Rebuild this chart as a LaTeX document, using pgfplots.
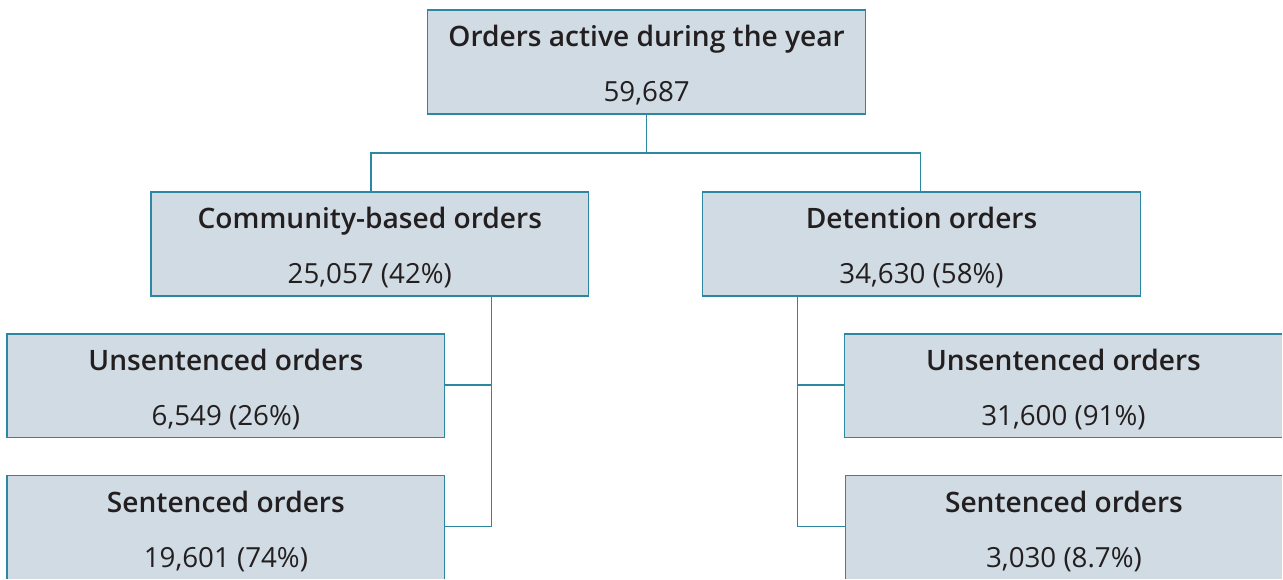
\documentclass[border=0pt]{standalone}
\usepackage{fontspec}
\setmainfont{Open Sans}[BoldFont={Open Sans Semibold}]
\usepackage{pgfplots}
\pgfplotsset{compat=1.18}
\definecolor{boxfill}{HTML}{D0DBE3}
\definecolor{boxline}{HTML}{2E87A0}
\definecolor{txt}{HTML}{231F20}
\tikzset{bline/.style={draw=boxline,line width=1pt}}
% #1 x0, #2 y0, #3 x1, #4 y1, #5 title, #6 value
\newcommand\orgtext[6]{%
  \node[anchor=base,text=txt,inner sep=0pt,font=\fontsize{21.1}{24}\selectfont\bfseries] at (axis cs:{(#1+#3)/2},{#2+37}) {#5};
  \node[anchor=base,text=txt,inner sep=0pt,font=\fontsize{20.8}{24}\selectfont] at (axis cs:{(#1+#3)/2},{#2+91.5}) {#6};
}
\newcommand\orgbox[6]{%
  \draw[fill=boxfill,bline] (axis cs:#1,#2) rectangle (axis cs:#3,#4);
  \orgtext{#1}{#2}{#3}{#4}{#5}{#6}
}
\begin{document}
\begin{tikzpicture}
\begin{axis}[
  x=0.75pt, y=0.75pt,
  xmin=0, xmax=1283, ymin=0, ymax=579,
  y dir=reverse,
  hide axis, clip=false, scale only axis,
]
% invisible frame: the picture's extent
\path (axis cs:0,0) rectangle (axis cs:1283,579);
% connectors
\addplot[boxline,line width=1.1pt] coordinates {(647,114) (647,153)};
\addplot[boxline,line width=1.1pt] coordinates {(371,192) (371,153) (921,153) (921,192)};
\addplot[boxline,line width=1.1pt] coordinates {(492,296) (492,527) (445,527)};
\addplot[boxline,line width=1.1pt] coordinates {(492,385) (445,385)};
\addplot[boxline,line width=1.1pt] coordinates {(798,296) (798,527) (846,527)};
\addplot[boxline,line width=1.1pt] coordinates {(798,385) (845,385)};
% full boxes
\orgbox{428}{10}{866}{114}{Orders active during the year}{59,687}
\orgbox{151}{192}{589}{296}{Community-based orders}{25,057 (42\%)}
\orgbox{703}{192}{1141}{296}{Detention orders}{34,630 (58\%)}
\orgbox{7}{334}{445}{438}{Unsentenced orders}{6,549 (26\%)}
% boxes cut by the picture's edge
\fill[boxfill] (axis cs:7,476) rectangle (axis cs:445,579);
\draw[bline] (axis cs:7,579) -- (axis cs:7,476) -- (axis cs:445,476) -- (axis cs:445,579);
\orgtext{7}{476}{445}{580}{Sentenced orders}{19,601 (74\%)}
\fill[boxfill] (axis cs:845,334) rectangle (axis cs:1283,438);
\draw[bline] (axis cs:1283,334) -- (axis cs:845,334) -- (axis cs:845,438) -- (axis cs:1283,438);
\orgtext{845}{334}{1283}{438}{Unsentenced orders}{31,600 (91\%)}
\fill[boxfill] (axis cs:846,476) rectangle (axis cs:1283,579);
\draw[bline] (axis cs:1283,476) -- (axis cs:846,476) -- (axis cs:846,579);
\orgtext{846}{476}{1283}{580}{Sentenced orders}{3,030 (8.7\%)}
\end{axis}
\end{tikzpicture}
\end{document}
